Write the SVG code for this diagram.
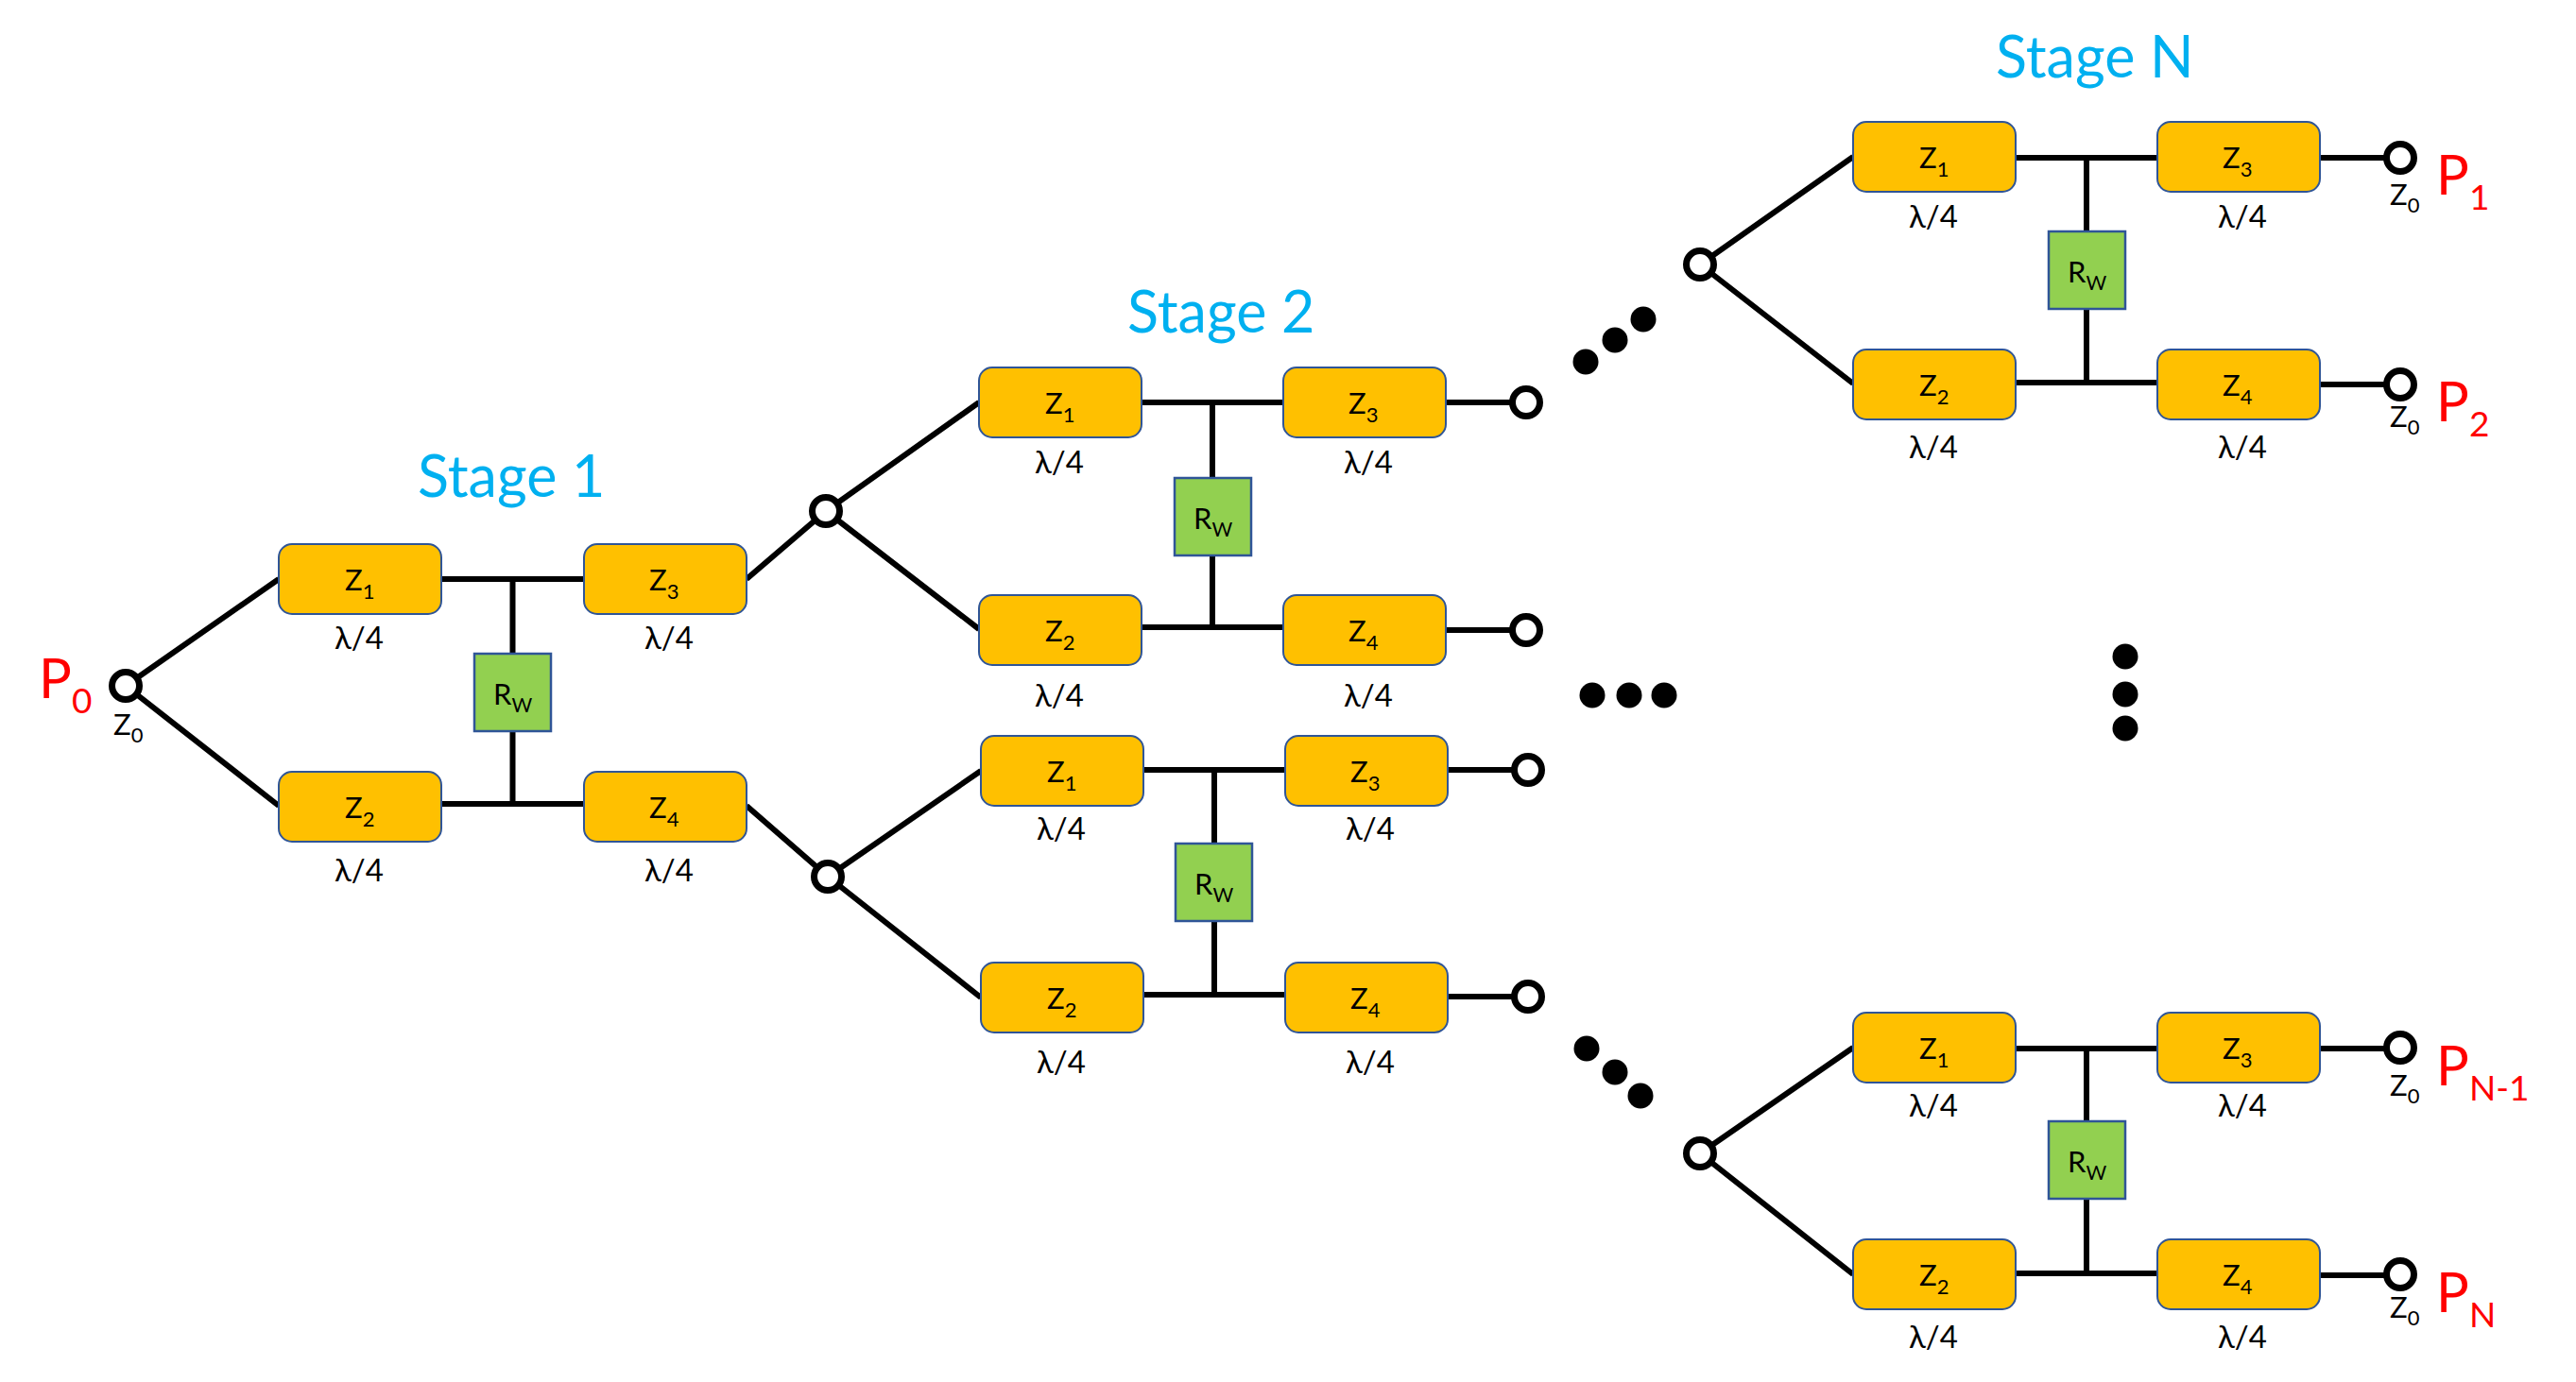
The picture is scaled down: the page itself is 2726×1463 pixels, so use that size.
<svg xmlns="http://www.w3.org/2000/svg" width="2726" height="1463" viewBox="0 0 2726 1463">
<style>
text{font-family:Lato,"Liberation Sans","DejaVu Sans",sans-serif;fill:#000}
.z{fill:#FFC000;stroke:#2F5597;stroke-width:2}
.r{fill:#92D050;stroke:#2F5597;stroke-width:2.5}
.t{font-size:31px}
.l{font-size:33px;text-anchor:middle}
.stage{font-size:61px;fill:#00B0F0}
.p{font-size:58px;fill:#F00}
.ps{font-size:37px;fill:#F00}
.port{fill:#fff;stroke:#000;stroke-width:7}
.dot{fill:#000}
.c path{fill:none;stroke:#000;stroke-width:6}
</style>
<defs>
<rect id="zb" class="z" width="172" height="74" rx="14"/>
<rect id="rb" class="r" width="81" height="82"/>
</defs>
<g id="connectors" class="c">
<path d="M133 726L295 613M133 726L295 853M468 613H618M468 851H618M542.500 613V851M790 613L874 541M790 853L876 928"/>
<path d="M874 541L1036 426M874 541L1036 666M1209 426H1358M1209 664H1358M1283 426V664M1531 426H1615M1531 667H1615"/>
<path d="M876 928L1038 816M876 928L1038 1056M1211 815H1360M1211 1053H1360M1285 815V1053M1533 815H1617M1533 1055H1617"/>
<path d="M1799 280L1961 166M1799 280L1961 406M2134 167H2283M2134 405H2283M2208 167V405M2456 167H2540M2456 407H2540"/>
<path d="M1799 1221L1961 1109M1799 1221L1961 1349M2134 1110H2283M2134 1348H2283M2208 1110V1348M2456 1110H2540M2456 1350H2540"/>
</g>
<g id="title-1"><text class="stage" x="442" y="526">Stage 1</text></g>
<g id="title-2"><text class="stage" x="1193" y="352">Stage 2</text></g>
<g id="title-n"><text class="stage" x="2112" y="82">Stage N</text></g>

<g id="s1-z1" transform="translate(295 576)"><use href="#zb"/><text class="t" x="70" y="49">Z<tspan font-size="22" dy="9">1</tspan></text><text class="l" x="85" y="111">λ/4</text></g>
<g id="s1-z3" transform="translate(618 576)"><use href="#zb"/><text class="t" x="69" y="49">Z<tspan font-size="22" dy="9">3</tspan></text><text class="l" x="90" y="111">λ/4</text></g>
<g id="s1-z2" transform="translate(295 817)"><use href="#zb"/><text class="t" x="70" y="49">Z<tspan font-size="22" dy="9">2</tspan></text><text class="l" x="85" y="116">λ/4</text></g>
<g id="s1-z4" transform="translate(618 817)"><use href="#zb"/><text class="t" x="69" y="49">Z<tspan font-size="22" dy="9">4</tspan></text><text class="l" x="90" y="116">λ/4</text></g>
<g id="s1-rw" transform="translate(502 692)"><use href="#rb"/><text class="t" x="20" y="54">R<tspan font-size="21" dy="8">W</tspan></text></g>

<g id="s2a-z1" transform="translate(1036 389)"><use href="#zb"/><text class="t" x="70" y="49">Z<tspan font-size="22" dy="9">1</tspan></text><text class="l" x="85" y="112">λ/4</text></g>
<g id="s2a-z3" transform="translate(1358 389)"><use href="#zb"/><text class="t" x="69" y="49">Z<tspan font-size="22" dy="9">3</tspan></text><text class="l" x="90" y="112">λ/4</text></g>
<g id="s2a-z2" transform="translate(1036 630)"><use href="#zb"/><text class="t" x="70" y="49">Z<tspan font-size="22" dy="9">2</tspan></text><text class="l" x="85" y="118">λ/4</text></g>
<g id="s2a-z4" transform="translate(1358 630)"><use href="#zb"/><text class="t" x="69" y="49">Z<tspan font-size="22" dy="9">4</tspan></text><text class="l" x="90" y="118">λ/4</text></g>
<g id="s2a-rw" transform="translate(1243 506)"><use href="#rb"/><text class="t" x="20" y="54">R<tspan font-size="21" dy="8">W</tspan></text></g>

<g id="s2b-z1" transform="translate(1038 779)"><use href="#zb"/><text class="t" x="70" y="49">Z<tspan font-size="22" dy="9">1</tspan></text><text class="l" x="85" y="110">λ/4</text></g>
<g id="s2b-z3" transform="translate(1360 779)"><use href="#zb"/><text class="t" x="69" y="49">Z<tspan font-size="22" dy="9">3</tspan></text><text class="l" x="90" y="110">λ/4</text></g>
<g id="s2b-z2" transform="translate(1038 1019)"><use href="#zb"/><text class="t" x="70" y="49">Z<tspan font-size="22" dy="9">2</tspan></text><text class="l" x="85" y="117">λ/4</text></g>
<g id="s2b-z4" transform="translate(1360 1019)"><use href="#zb"/><text class="t" x="69" y="49">Z<tspan font-size="22" dy="9">4</tspan></text><text class="l" x="90" y="117">λ/4</text></g>
<g id="s2b-rw" transform="translate(1244 893)"><use href="#rb"/><text class="t" x="20" y="54">R<tspan font-size="21" dy="8">W</tspan></text></g>

<g id="sNa-z1" transform="translate(1961 129)"><use href="#zb"/><text class="t" x="70" y="49">Z<tspan font-size="22" dy="9">1</tspan></text><text class="l" x="85" y="112">λ/4</text></g>
<g id="sNa-z3" transform="translate(2283 129)"><use href="#zb"/><text class="t" x="69" y="49">Z<tspan font-size="22" dy="9">3</tspan></text><text class="l" x="90" y="112">λ/4</text></g>
<g id="sNa-z2" transform="translate(1961 370)"><use href="#zb"/><text class="t" x="70" y="49">Z<tspan font-size="22" dy="9">2</tspan></text><text class="l" x="85" y="115">λ/4</text></g>
<g id="sNa-z4" transform="translate(2283 370)"><use href="#zb"/><text class="t" x="69" y="49">Z<tspan font-size="22" dy="9">4</tspan></text><text class="l" x="90" y="115">λ/4</text></g>
<g id="sNa-rw" transform="translate(2168 245)"><use href="#rb"/><text class="t" x="20" y="54">R<tspan font-size="21" dy="8">W</tspan></text></g>

<g id="sNb-z1" transform="translate(1961 1072)"><use href="#zb"/><text class="t" x="70" y="49">Z<tspan font-size="22" dy="9">1</tspan></text><text class="l" x="85" y="110">λ/4</text></g>
<g id="sNb-z3" transform="translate(2283 1072)"><use href="#zb"/><text class="t" x="69" y="49">Z<tspan font-size="22" dy="9">3</tspan></text><text class="l" x="90" y="110">λ/4</text></g>
<g id="sNb-z2" transform="translate(1961 1312)"><use href="#zb"/><text class="t" x="70" y="49">Z<tspan font-size="22" dy="9">2</tspan></text><text class="l" x="85" y="115">λ/4</text></g>
<g id="sNb-z4" transform="translate(2283 1312)"><use href="#zb"/><text class="t" x="69" y="49">Z<tspan font-size="22" dy="9">4</tspan></text><text class="l" x="90" y="115">λ/4</text></g>
<g id="sNb-rw" transform="translate(2168 1187)"><use href="#rb"/><text class="t" x="20" y="54">R<tspan font-size="21" dy="8">W</tspan></text></g>

<g id="port-p0"><circle class="port" cx="133" cy="726" r="14.500"/><text class="t" x="120" y="778">Z<tspan font-size="22" dy="8">0</tspan></text><text class="p" x="41" y="739">P<tspan class="ps" x="76" dy="16">0</tspan></text></g>
<g id="junction-1"><circle class="port" cx="874" cy="541" r="14.500"/></g>
<g id="junction-2"><circle class="port" cx="876" cy="928" r="14.500"/></g>
<g id="junction-3"><circle class="port" cx="1799" cy="280" r="14.500"/></g>
<g id="junction-4"><circle class="port" cx="1799" cy="1221" r="14.500"/></g>
<g id="out-1"><circle class="port" cx="1615" cy="426" r="14.500"/></g>
<g id="out-2"><circle class="port" cx="1615" cy="667" r="14.500"/></g>
<g id="out-3"><circle class="port" cx="1617" cy="815" r="14.500"/></g>
<g id="out-4"><circle class="port" cx="1617" cy="1055" r="14.500"/></g>
<g id="port-p1"><circle class="port" cx="2540" cy="167" r="14.500"/><text class="t" x="2529" y="217">Z<tspan font-size="22" dy="8">0</tspan></text><text class="p" x="2578" y="206">P<tspan class="ps" x="2613" dy="16">1</tspan></text></g>
<g id="port-p2"><circle class="port" cx="2540" cy="407" r="14.500"/><text class="t" x="2529" y="452">Z<tspan font-size="22" dy="8">0</tspan></text><text class="p" x="2578" y="446">P<tspan class="ps" x="2613" dy="16">2</tspan></text></g>
<g id="port-pn1"><circle class="port" cx="2540" cy="1109" r="14.500"/><text class="t" x="2529" y="1160">Z<tspan font-size="22" dy="8">0</tspan></text><text class="p" x="2578" y="1149">P<tspan class="ps" x="2613" dy="16">N-1</tspan></text></g>
<g id="port-pn"><circle class="port" cx="2540" cy="1349" r="14.500"/><text class="t" x="2529" y="1395">Z<tspan font-size="22" dy="8">0</tspan></text><text class="p" x="2578" y="1389">P<tspan class="ps" x="2613" dy="16">N</tspan></text></g>

<g id="ellipsis-upper" class="dot"><circle cx="1678" cy="383" r="13.500"/><circle cx="1709" cy="360" r="13.500"/><circle cx="1739" cy="338" r="13.500"/></g>
<g id="ellipsis-middle" class="dot"><circle cx="1685" cy="736" r="13.500"/><circle cx="1724" cy="736" r="13.500"/><circle cx="1761" cy="736" r="13.500"/></g>
<g id="ellipsis-lower" class="dot"><circle cx="1679" cy="1110" r="13.500"/><circle cx="1709" cy="1135" r="13.500"/><circle cx="1736" cy="1160" r="13.500"/></g>
<g id="ellipsis-vertical" class="dot"><circle cx="2249" cy="695" r="13.500"/><circle cx="2249" cy="735" r="13.500"/><circle cx="2249" cy="771" r="13.500"/></g>
</svg>
